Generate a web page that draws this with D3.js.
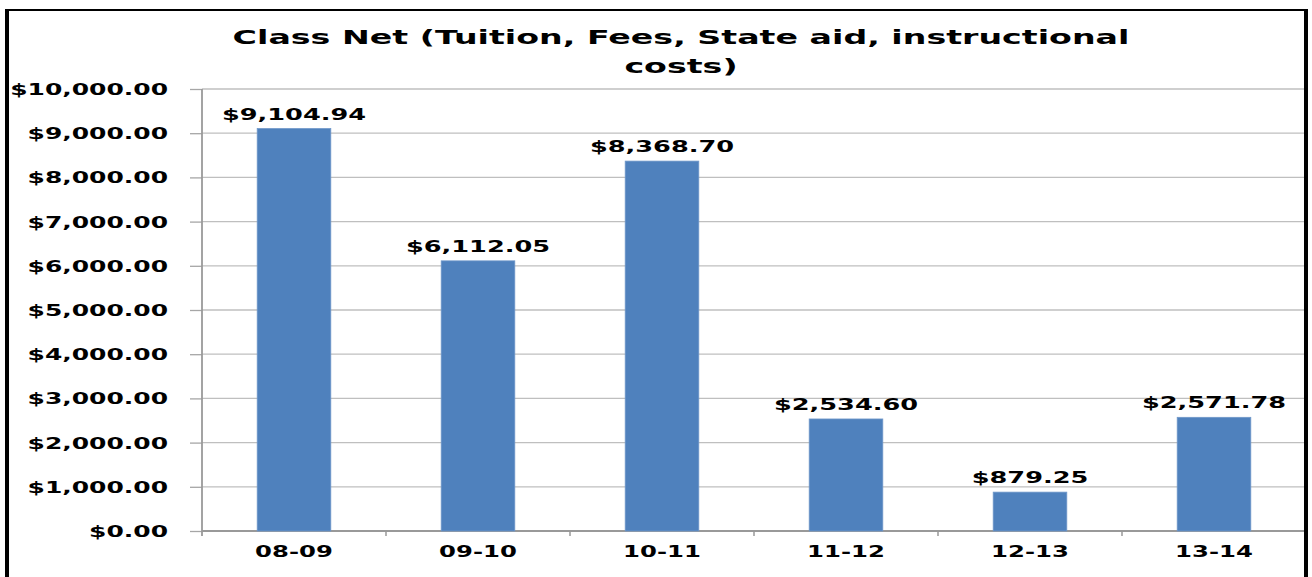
<!DOCTYPE html>
<html>
<head>
<meta charset="utf-8">
<script src="https://cdn.jsdelivr.net/npm/d3@7"></script>
<style>
  body { margin: 0; background: #fff; }
  text { font-family: "DejaVu Sans", Verdana, sans-serif; font-weight: bold; fill: #000; }
</style>
</head>
<body>
<svg id="main" width="1312" height="577"></svg>
<script>
// data
const years = ["08-09", "09-10", "10-11", "11-12", "12-13", "13-14"];
const classNet = [9104.94, 6112.05, 8368.70, 2534.60, 879.25, 2571.78];
const yTicks = [0, 1000, 2000, 3000, 4000, 5000, 6000, 7000, 8000, 9000, 10000];
const titleLines = ["Class Net (Tuition, Fees, State aid, instructional", "costs)"];

const svg = d3.select("#main");

const plotL = 202, plotR = 1306, plotT = 89, plotB = 531;

const x = d3.scaleBand().domain(years).range([plotL, plotR]).paddingInner(0.6).paddingOuter(0.3);
const y = d3.scaleLinear().domain([0, 10000]).range([plotB, plotT]);
const money = v => "$" + d3.format(",.2f")(v);

// the picture is stretched sideways, so the text is too
function label(g, tx, ty, str, size, anchor, sx) {
    return g.append("text")
        .attr("transform", `translate(${tx},${ty}) scale(${sx},1)`)
        .attr("text-anchor", anchor)
        .style("font-size", size + "px")
        .text(str);
}

// gridlines
svg.append("g").selectAll("line").data(yTicks.slice(1)).join("line")
    .attr("x1", plotL).attr("x2", plotR)
    .attr("y1", d => y(d)).attr("y2", d => y(d))
    .attr("stroke", "#bfbfbf").attr("stroke-width", 1.3);

// y axis
const yAxis = svg.append("g").attr("transform", `translate(${plotL},0)`)
    .call(d3.axisLeft(y).tickValues(yTicks).tickSize(12).tickFormat(""));
yAxis.select(".domain").remove();
yAxis.selectAll(".tick line").attr("stroke", "#a6a6a6").attr("stroke-width", 1.3);
svg.append("line").attr("x1", plotL).attr("x2", plotL).attr("y1", plotT).attr("y2", plotB + 5)
    .attr("stroke", "#999").attr("stroke-width", 1.8);
yTicks.forEach(t => label(svg, 168, y(t) + 6, money(t), 16, "end", 1.56));

// x axis
svg.append("line").attr("x1", plotL).attr("x2", plotR).attr("y1", plotB).attr("y2", plotB)
    .attr("stroke", "#999").attr("stroke-width", 1.8);
const step = x.step();
svg.append("g").selectAll("line").data(years.slice(1)).join("line")
    .attr("x1", d => x(d) - step * 0.3).attr("x2", d => x(d) - step * 0.3)
    .attr("y1", plotB).attr("y2", plotB + 5)
    .attr("stroke", "#999").attr("stroke-width", 1.5);
years.forEach(d => label(svg, x(d) + x.bandwidth() / 2, 557, d, 16, "middle", 1.52));

// bars
svg.append("g").selectAll("rect").data(classNet).join("rect")
    .attr("x", (d, i) => x(years[i]))
    .attr("y", d => y(d))
    .attr("width", x.bandwidth())
    .attr("height", d => plotB - y(d))
    .attr("fill", "#4f81bd")
    .attr("stroke", "#6f97c9").attr("stroke-width", 0.8);

// value labels
classNet.forEach((d, i) => label(svg, x(years[i]) + x.bandwidth() / 2, y(d) - 9, money(d), 16, "middle", 1.6));

// title
titleLines.forEach((t, i) => label(svg, 681, 44 + i * 29, t, 19, "middle", 1.75));

// frame
svg.append("rect").attr("x", 5).attr("y", 9).attr("width", 1299).attr("height", 2).attr("fill", "#000");
svg.append("rect").attr("x", 5).attr("y", 9).attr("width", 4).attr("height", 568).attr("fill", "#000");
svg.append("rect").attr("x", 1304).attr("y", 9).attr("width", 4).attr("height", 568).attr("fill", "#000");
</script>
</body>
</html>
